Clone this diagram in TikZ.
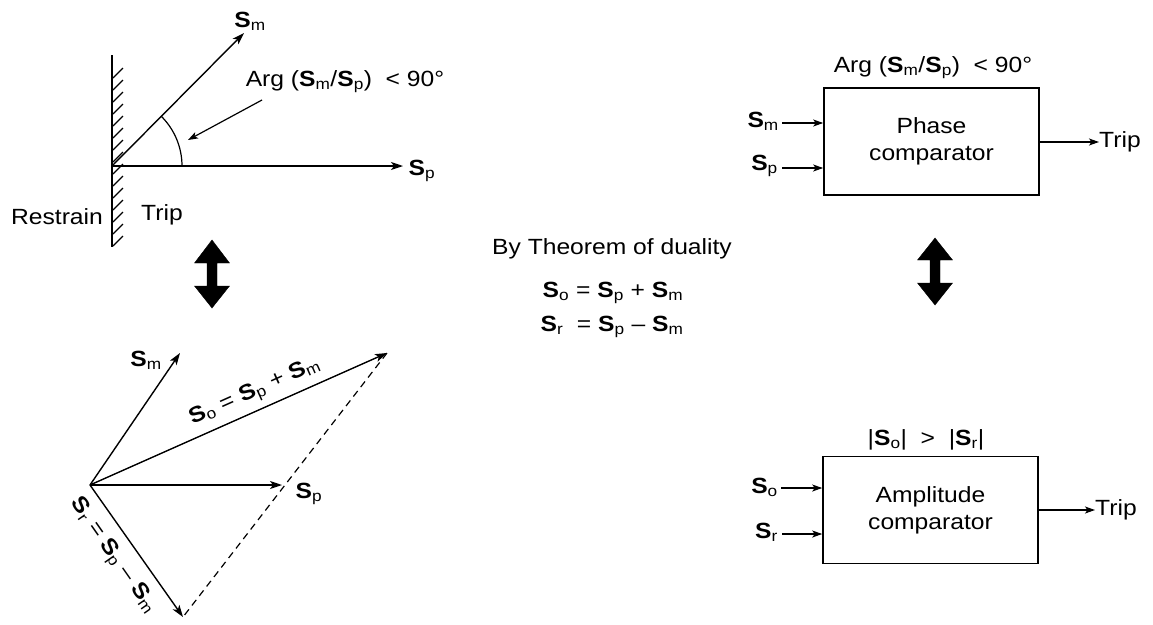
\documentclass[tikz,border=0pt]{standalone}
\usepackage{fontspec}
\setmainfont{Liberation Sans}[FakeStretch=1.12]
\usetikzlibrary{arrows.meta}
\newcommand{\Sv}[1]{\textbf{S}\textsubscript{#1}}
\begin{document}
\begin{tikzpicture}[x=1pt,y=-1pt,
  lbl/.style={font=\fontsize{22}{27}\selectfont, inner sep=0pt},
  vec/.style={line width=1.4pt, -{Stealth[length=12pt,width=8pt,inset=3pt]}},
  tharrow/.style={line width=1.2pt, -{Stealth[length=10pt,width=7pt,inset=2.5pt]}},
  cbox/.style={draw, line width=1.6pt, minimum width=215pt, minimum height=107pt,
    align=center, font=\fontsize{22}{27}\selectfont, inner sep=0pt},
  thick line/.style={line width=1.4pt},
  hatch/.style={line width=1.1pt},
  bigarrow/.style={fill=black, draw=black}
]
\useasboundingbox (0,0) rectangle (1153,624);

% ---------- top-left phasor diagram ----------
\coordinate (O1) at (112,166);
\coordinate (wallT) at (112,55);
\coordinate (wallB) at (112,247);
\draw[thick line] (wallT) -- (wallB);
\foreach \k in {0,...,14}{
  \draw[hatch] (113,78+12*\k) -- (123,68+12*\k);
}
\coordinate (Sm1) at (244,33);
\coordinate (Sp1) at (403,166);
\draw[vec] (O1) -- (Sm1);
\draw[vec] (O1) -- (Sp1);
\node[lbl] (lSm1) at (250,21) {\Sv{m}};
\node[lbl] (lSp1) at (422,171) {\Sv{p}};
\draw[line width=1.2pt] (O1) ++(70,0) arc[start angle=0, end angle=-45.4, radius=70];
\node[lbl] (arg1) at (345,82) {Arg (\Sv{m}/\Sv{p})\ \ <\ 90°};
\coordinate (argS) at (262,100);
\coordinate (argE) at (188,140);
\draw[tharrow] (argS) -- (argE);
\node[lbl] (restrain) at (57,217) {Restrain};
\node[lbl] (trip0) at (162,215) {Trip};

% ---------- big double arrows ----------
\path[bigarrow] (212,240) -- (229.5,263) -- (217,263) -- (217,286) -- (229.5,286)
  -- (212,308) -- (194.5,286) -- (207,286) -- (207,263) -- (194.5,263) -- cycle;
\path[bigarrow] (935,238) -- (952.5,260) -- (940,260) -- (940,283) -- (952.5,283)
  -- (935,305) -- (917.5,283) -- (930,283) -- (930,260) -- (917.5,260) -- cycle;

% ---------- bottom-left phasor diagram ----------
\coordinate (O2) at (90,485);
\coordinate (Sm2) at (180,353);
\coordinate (So2) at (387,353);
\coordinate (Sp2) at (282,485);
\coordinate (Sr2) at (183,617);
\draw[vec] (O2) -- (Sm2);
\draw[vec] (O2) -- (So2);
\draw[vec] (O2) -- (Sp2);
\draw[vec] (O2) -- (Sr2);
\draw[line width=1.2pt, dash pattern=on 7pt off 5pt] (So2) -- (Sr2);
\node[lbl] (lSm2) at (146,360) {\Sv{m}};
\node[lbl] (lSp2) at (309,494) {\Sv{p}};
\node[lbl, rotate=24] (lSo2) at (255,392) {\Sv{o} = \Sv{p} + \Sv{m}};
\node[lbl, rotate=-55] (lSr2) at (113,556) {\Sv{r} = \Sv{p} -- \Sv{m}};

% ---------- middle text ----------
\node[lbl] (duality) at (612,249) {By Theorem\ of duality};
\node[lbl] (eq1) at (613,293) {\Sv{o}\ = \Sv{p}\ + \Sv{m}};
\node[lbl] (eq2) at (612,327) {\Sv{r}\ \ = \Sv{p}\ -- \Sv{m}};

% ---------- phase comparator ----------
\node[cbox] (pc) at (931.5,141.5) {Phase\\comparator};
\node[lbl] (pcLabel) at (933,68) {Arg (\Sv{m}/\Sv{p})\ \ <\ 90°};
\node[lbl, anchor=east] (inSm) at (779,121) {\Sv{m}};
\node[lbl, anchor=east] (inSp) at (778,166) {\Sv{p}};
\draw[tharrow] (inSm.east) ++(3,2) coordinate (a1) -- (a1 -| pc.west);
\draw[tharrow] (inSp.east) ++(4,2) coordinate (a2) -- (a2 -| pc.west);
\node[lbl, anchor=west] (tripP) at (1099,142) {Trip};
\draw[tharrow] (pc.east |- tripP.west) -- (tripP.west);

% ---------- amplitude comparator ----------
\node[cbox] (ac) at (930.5,510) {Amplitude\\comparator};
\node[lbl] (acLabel) at (926,440) {|\Sv{o}|\ \ >\ \ |\Sv{r}|};
\node[lbl, anchor=east] (inSo) at (778,487) {\Sv{o}};
\node[lbl, anchor=east] (inSr) at (778,532) {\Sv{r}};
\draw[tharrow] (inSo.east) ++(3,1) coordinate (a3) -- (a3 -| ac.west);
\draw[tharrow] (inSr.east) ++(4,2) coordinate (a4) -- (a4 -| ac.west);
\node[lbl, anchor=west] (tripA) at (1095,510) {Trip};
\draw[tharrow] (ac.east |- tripA.west) -- (tripA.west);
\end{tikzpicture}
\end{document}
